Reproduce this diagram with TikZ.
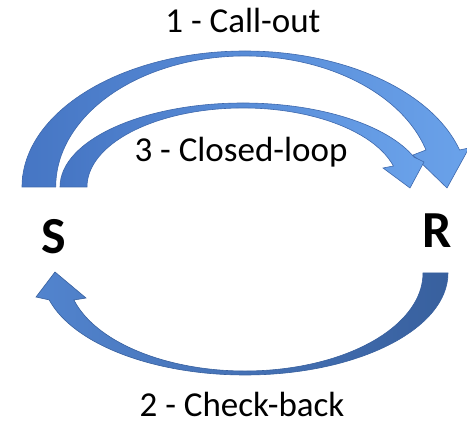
\documentclass[tikz,border=0pt]{standalone}
\usepackage{fontspec}
\setmainfont{Carlito}
\definecolor{arrowedge}{RGB}{62,104,172}
\definecolor{arrowdark}{RGB}{70,118,196}
\definecolor{arrowlight}{RGB}{106,162,234}
\definecolor{backdark}{RGB}{56,96,158}
\definecolor{backlight}{RGB}{82,132,206}
\begin{document}
\begin{tikzpicture}[x=1pt, y=-1pt,
    toparrow/.style={draw=arrowedge, line width=.6pt, left color=arrowdark, right color=arrowlight},
    backarrow/.style={draw=backdark, line width=.6pt, left color=backlight, right color=backdark},
    steplabel/.style={font=\fontsize{35}{40}\selectfont, anchor=base, inner sep=0pt},
    party/.style={font=\fontsize{52}{56}\selectfont\bfseries, anchor=base, inner sep=0pt}]
\useasboundingbox (0,0) rectangle (467,425);
% 1 - call-out
\draw[toparrow] (22,187) arc[start angle=180, end angle=344.2, x radius=223, y radius=136]
    -- (469,148) -- (447,188) -- (413,155) -- (426,150)
    arc[start angle=343.6, end angle=180, x radius=189, y radius=131] -- cycle;
% 3 - closed-loop
\draw[toparrow] (60,187) arc[start angle=180, end angle=339.1, x radius=183, y radius=84]
    -- (424,162) -- (410,188) -- (383,168) -- (393.4,166)
    arc[start angle=344.6, end angle=180, x radius=156, y radius=79] -- cycle;
% 2 - check-back
\draw[backarrow] (448,273) arc[start angle=0, end angle=164.7, x radius=203, y radius=102]
    -- (36,297) -- (55,272) -- (86,298) -- (73.9,300)
    arc[start angle=164, end angle=0, x radius=178, y radius=98] -- cycle;
\node[steplabel] (callout) at (243,33) {1 - Call-out};
\node[steplabel] (closedloop) at (241,162) {3 - Closed-loop};
\node[steplabel] (checkback) at (242,417) {2 - Check-back};
\node[party] (sender) at (54,254) {S};
\node[party] (receiver) at (437,248) {R};
\end{tikzpicture}
\end{document}
